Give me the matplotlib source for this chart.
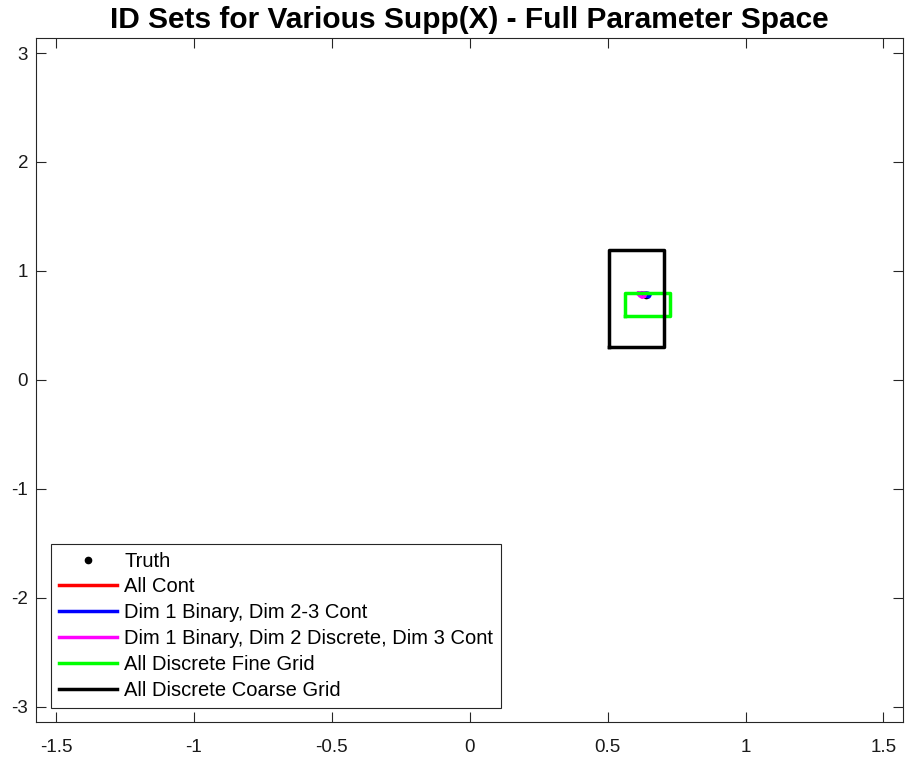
import numpy as np
import matplotlib
matplotlib.use("Agg")
import matplotlib.pyplot as plt

plt.rcParams['font.family'] = ['Liberation Sans', 'DejaVu Sans']

# identified sets (polygon vertices) for each support assumption
all_cont_x = [0.634, 0.640, 0.644, 0.640, 0.634]
all_cont_y = [0.775, 0.772, 0.780, 0.788, 0.775]
bin_cont_x = [0.624, 0.636, 0.650, 0.654, 0.648, 0.630, 0.624]
bin_cont_y = [0.795, 0.770, 0.762, 0.780, 0.795, 0.797, 0.795]
bin_disc_x = [0.610, 0.616, 0.625, 0.634, 0.638, 0.630, 0.614, 0.610]
bin_disc_y = [0.795, 0.772, 0.758, 0.765, 0.790, 0.798, 0.798, 0.795]
fine_x = [0.563, 0.726, 0.726, 0.563, 0.563]
fine_y = [0.585, 0.585, 0.797, 0.797, 0.585]
coarse_x = [0.505, 0.705, 0.705, 0.505, 0.505]
coarse_y = [0.305, 0.305, 1.195, 1.195, 0.305]
truth = (0.64, 0.78)

labels = ["Truth", "All Cont", "Dim 1 Binary, Dim 2-3 Cont",
          "Dim 1 Binary, Dim 2 Discrete, Dim 3 Cont",
          "All Discrete Fine Grid", "All Discrete Coarse Grid"]

fig = plt.figure(figsize=(9.05, 7.59), dpi=100)
ax = fig.add_axes([0.0403, 0.0487, 0.9575, 0.9017])

ax.plot(truth[0], truth[1], 'k.', markersize=9, label=labels[0])
ax.plot(all_cont_x, all_cont_y, color='#ff0000', lw=2.5, label=labels[1])
ax.plot(bin_cont_x, bin_cont_y, color='#0000ff', lw=2.5, label=labels[2])
ax.plot(bin_disc_x, bin_disc_y, color='#ff00ff', lw=2.5, label=labels[3])
ax.plot(fine_x, fine_y, color='#00ff00', lw=2.5, label=labels[4])
ax.plot(coarse_x, coarse_y, color='k', lw=2.5, label=labels[5])

ax.set_xlim(-np.pi / 2, np.pi / 2)
ax.set_ylim(-np.pi, np.pi)
ax.set_xticks([-1.5, -1, -0.5, 0, 0.5, 1, 1.5])
ax.set_xticklabels(['-1.5', '-1', '-0.5', '0', '0.5', '1', '1.5'])
ax.set_yticks([-3, -2, -1, 0, 1, 2, 3])
ax.set_yticklabels(['-3', '-2', '-1', '0', '1', '2', '3'])
ax.tick_params(direction='in', top=True, right=True, length=7, width=0.8,
               colors='#262626', labelsize=13.5, labelcolor='#1a1a1a')
ax.tick_params(axis='x', pad=12)
ax.tick_params(axis='y', pad=6)
for s in ax.spines.values():
    s.set_color('#262626')
    s.set_linewidth(0.8)

ax.set_title("ID Sets for Various Supp(X) - Full Parameter Space",
             fontsize=21.5, fontweight='bold', pad=7)

leg = ax.legend(loc='lower left', fontsize=14.5, handlelength=2.9,
                handletextpad=0.35, labelspacing=0.34, borderaxespad=0.7,
                fancybox=False, edgecolor='#262626', framealpha=1,
                borderpad=0.4)
leg.get_frame().set_linewidth(0.8)

fig.savefig("out.png", dpi=100)
